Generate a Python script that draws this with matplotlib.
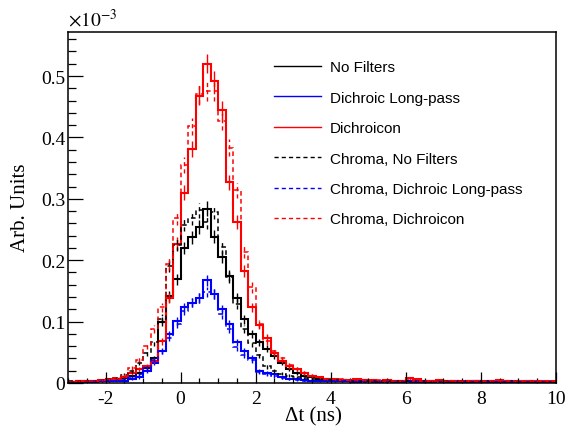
import matplotlib.pyplot as plt
import numpy as np
from matplotlib.lines import Line2D
from matplotlib.ticker import MultipleLocator

plt.rcParams["font.family"] = "Liberation Serif"
plt.rcParams["mathtext.fontset"] = "stix"
plt.rcParams["axes.unicode_minus"] = False

# 65 bins of 0.2 ns between -3 and 10 ns
bin_edges = np.linspace(-3.0, 10.0, 66)

# bin contents, in units of 1e-3
no_filters = [
    0.002, 0.003, 0.003, 0.004, 0.004, 0.005, 0.006, 0.008, 0.011, 0.016,
    0.024, 0.040, 0.100, 0.141, 0.169, 0.220, 0.237, 0.254, 0.284, 0.238,
    0.205, 0.175, 0.139, 0.104, 0.080, 0.066, 0.056, 0.044, 0.033, 0.022,
    0.016, 0.012, 0.009, 0.007, 0.006, 0.005, 0.005, 0.004, 0.004, 0.005,
    0.004, 0.004, 0.003, 0.004, 0.003, 0.004, 0.003, 0.003, 0.004, 0.003,
    0.003, 0.003, 0.002, 0.003, 0.003, 0.002, 0.003, 0.002, 0.003, 0.002,
    0.002, 0.003, 0.002, 0.002, 0.002,
]
dichroic_lp = [
    0.001, 0.002, 0.002, 0.002, 0.003, 0.003, 0.004, 0.004, 0.006, 0.009,
    0.019, 0.033, 0.052, 0.079, 0.101, 0.123, 0.131, 0.139, 0.167, 0.145,
    0.120, 0.096, 0.066, 0.052, 0.041, 0.019, 0.016, 0.014, 0.009, 0.007,
    0.006, 0.005, 0.004, 0.004, 0.003, 0.003, 0.003, 0.003, 0.002, 0.003,
    0.003, 0.002, 0.003, 0.002, 0.002, 0.003, 0.002, 0.002, 0.002, 0.003,
    0.002, 0.002, 0.002, 0.002, 0.003, 0.002, 0.002, 0.002, 0.002, 0.002,
    0.002, 0.002, 0.001, 0.002, 0.002,
]
dichroicon = [
    0.002, 0.003, 0.003, 0.004, 0.005, 0.006, 0.007, 0.010, 0.016, 0.022,
    0.028, 0.036, 0.068, 0.139, 0.227, 0.310, 0.381, 0.468, 0.520, 0.492,
    0.444, 0.327, 0.262, 0.182, 0.123, 0.095, 0.074, 0.049, 0.036, 0.027,
    0.022, 0.016, 0.012, 0.010, 0.006, 0.006, 0.005, 0.005, 0.006, 0.005,
    0.005, 0.004, 0.005, 0.004, 0.004, 0.008, 0.006, 0.004, 0.004, 0.005,
    0.003, 0.004, 0.004, 0.003, 0.004, 0.004, 0.003, 0.005, 0.003, 0.003,
    0.004, 0.003, 0.003, 0.004, 0.003,
]
chroma_no_filters = [
    0.003, 0.003, 0.004, 0.004, 0.005, 0.006, 0.008, 0.013, 0.020, 0.033,
    0.049, 0.066, 0.105, 0.190, 0.225, 0.258, 0.268, 0.281, 0.262, 0.279,
    0.221, 0.172, 0.129, 0.088, 0.065, 0.045, 0.027, 0.020, 0.015, 0.012,
    0.010, 0.008, 0.007, 0.006, 0.005, 0.005, 0.004, 0.004, 0.004, 0.003,
    0.004, 0.003, 0.003, 0.004, 0.003, 0.003, 0.003, 0.003, 0.002, 0.003,
    0.003, 0.002, 0.003, 0.002, 0.002, 0.003, 0.002, 0.002, 0.002, 0.003,
    0.002, 0.002, 0.002, 0.002, 0.002,
]
chroma_dichroic_lp = [
    0.002, 0.002, 0.002, 0.003, 0.003, 0.003, 0.004, 0.005, 0.009, 0.014,
    0.025, 0.038, 0.052, 0.074, 0.096, 0.118, 0.131, 0.139, 0.148, 0.145,
    0.112, 0.088, 0.058, 0.046, 0.037, 0.018, 0.014, 0.011, 0.008, 0.006,
    0.005, 0.004, 0.004, 0.003, 0.003, 0.003, 0.003, 0.002, 0.003, 0.002,
    0.002, 0.003, 0.002, 0.002, 0.002, 0.002, 0.003, 0.002, 0.002, 0.002,
    0.002, 0.002, 0.002, 0.001, 0.002, 0.002, 0.002, 0.002, 0.001, 0.002,
    0.002, 0.001, 0.002, 0.001, 0.002,
]
chroma_dichroicon = [
    0.002, 0.003, 0.004, 0.004, 0.005, 0.006, 0.008, 0.012, 0.025, 0.038,
    0.060, 0.088, 0.123, 0.194, 0.268, 0.355, 0.418, 0.470, 0.475, 0.475,
    0.426, 0.383, 0.314, 0.213, 0.156, 0.096, 0.068, 0.052, 0.040, 0.030,
    0.022, 0.016, 0.012, 0.009, 0.007, 0.006, 0.006, 0.005, 0.005, 0.005,
    0.004, 0.005, 0.004, 0.004, 0.004, 0.006, 0.004, 0.004, 0.003, 0.004,
    0.004, 0.003, 0.003, 0.004, 0.003, 0.003, 0.004, 0.003, 0.003, 0.003,
    0.003, 0.003, 0.003, 0.002, 0.003,
]

labels = [
    "No Filters",
    "Dichroic Long-pass",
    "Dichroicon",
    "Chroma, No Filters",
    "Chroma, Dichroic Long-pass",
    "Chroma, Dichroicon",
]
series = [no_filters, dichroic_lp, dichroicon,
          chroma_no_filters, chroma_dichroic_lp, chroma_dichroicon]
colors = ["black", "#0000ff", "#ff0000", "black", "#0000ff", "#ff0000"]
dashed = [False, False, False, True, True, True]

x_ticks = [-2, 0, 2, 4, 6, 8, 10]
x_tick_labels = ["-2", "0", "2", "4", "6", "8", "10"]
y_ticks = [0.0, 0.1, 0.2, 0.3, 0.4, 0.5]
y_tick_labels = ["0", "0.1", "0.2", "0.3", "0.4", "0.5"]

# statistical error ~ sqrt(content)
err_scale = 0.022

fig = plt.figure(figsize=(5.67, 4.31), dpi=100)
ax = fig.add_axes([68 / 567, 47 / 431, 488 / 567, 351 / 431])

centers = 0.5 * (bin_edges[:-1] + bin_edges[1:])
handles = []
for vals, col, dsh, lab in zip(series, colors, dashed, labels):
    vals = np.asarray(vals)
    err = err_scale * np.sqrt(vals)
    ls = (0, (3, 2.2)) if dsh else "-"
    lw = 1.1 if dsh else 1.5
    ax.stairs(vals, bin_edges, baseline=None, color=col, lw=lw, linestyle=ls)
    ax.vlines(centers, vals - err, vals + err, colors=col, lw=1.0, linestyles=ls)
    handles.append(Line2D([], [], color=col, lw=1.0, linestyle=ls, label=lab))

ax.set_xlim(-3, 10)
ax.set_ylim(0, 0.5717)
ax.set_xticks(x_ticks, x_tick_labels)
ax.set_yticks(y_ticks, y_tick_labels)
ax.xaxis.set_minor_locator(MultipleLocator(0.5))
ax.yaxis.set_minor_locator(MultipleLocator(0.02))
ax.tick_params(axis="both", which="both", direction="in", top=False, right=False,
               labelsize=14, width=0.9)
ax.tick_params(axis="y", which="major", length=10.8, pad=2)
ax.tick_params(axis="y", which="minor", length=5.4)
ax.tick_params(axis="x", which="major", length=7.6, pad=5)
ax.tick_params(axis="x", which="minor", length=3.8)
for sp in ax.spines.values():
    sp.set_linewidth(1.1)

fig.text(313 / 567, 1 - 417 / 431, "\u0394t (ns)", fontsize=15,
         ha="center", va="center")
fig.text(21 / 567, 1 - 208 / 431, "Arb. Units", fontsize=15,
         rotation=90, ha="center", va="center")
fig.text(68 / 567, 1 - 27 / 431, r"$\times10^{-3}$", fontsize=14,
         ha="left", va="baseline")

ax.legend(handles=handles, loc="upper left",
          bbox_to_anchor=(274 / 567, 1 - 61 / 431),
          bbox_transform=fig.transFigure, frameon=False,
          prop={"family": "Liberation Sans", "size": 11},
          handlelength=3.05, handletextpad=0.6, labelspacing=1.08,
          borderpad=0, borderaxespad=0)

fig.savefig("out.png", dpi=100)
